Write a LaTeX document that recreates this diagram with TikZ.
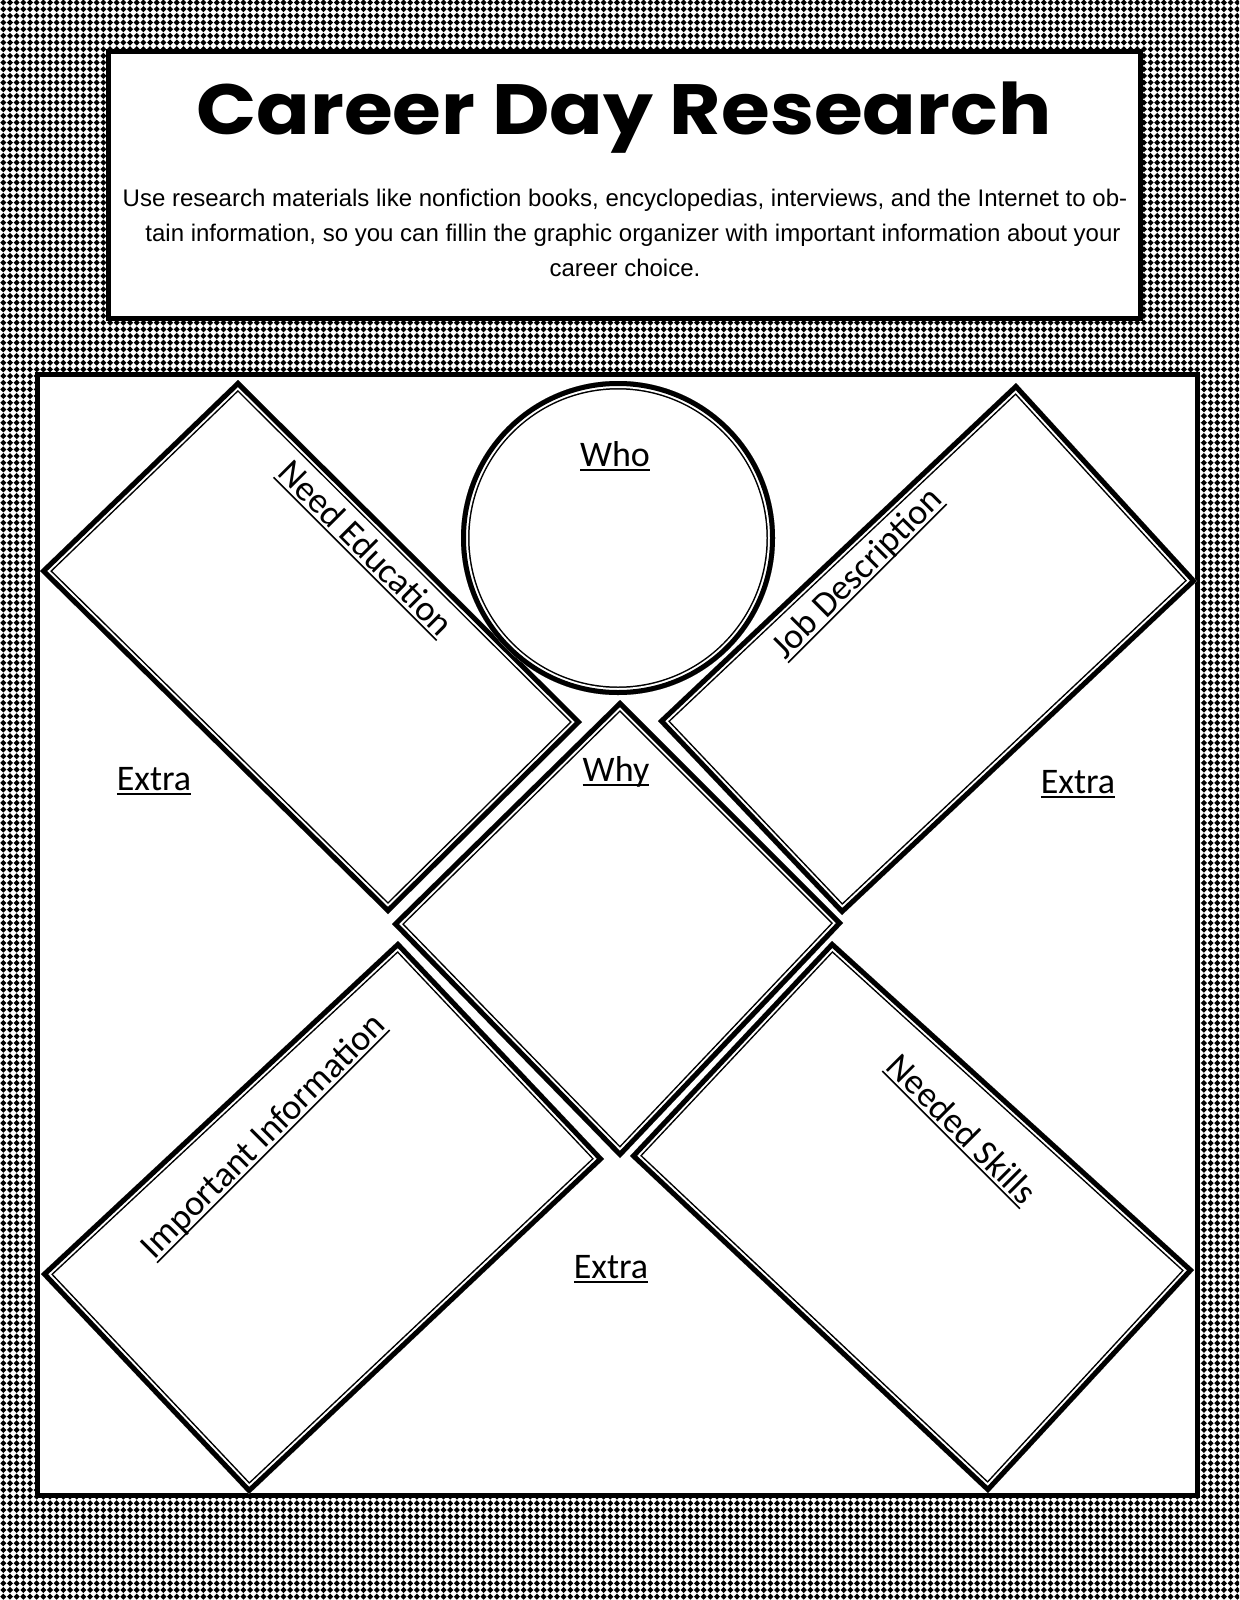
\documentclass[tikz,border=0pt]{standalone}
\usepackage{fontspec}
\setmainfont{Liberation Sans}
\newfontfamily\labelfont{Carlito}
\newfontfamily\titlefont{Poppins}
\usetikzlibrary{patterns}
\pgfdeclarepatternformonly{dmd}{\pgfpoint{-0.1pt}{-0.1pt}}{\pgfpoint{6.77pt}{6.77pt}}{\pgfpoint{6.67pt}{6.67pt}}{%
  \pgfpathmoveto{\pgfpoint{3.335pt}{0.3pt}}%
  \pgfpathlineto{\pgfpoint{6.37pt}{3.335pt}}%
  \pgfpathlineto{\pgfpoint{3.335pt}{6.37pt}}%
  \pgfpathlineto{\pgfpoint{0.3pt}{3.335pt}}%
  \pgfpathclose
  \pgfusepath{fill}}
\newcommand\dblshape[1]{%
  \begin{scope}
    \clip #1;
    \fill[white] #1;
    \draw[line width=17pt] #1;
    \draw[line width=14pt,white] #1;
    \draw[line width=10pt] #1;
  \end{scope}}
\newcommand\ulx[1]{\setbox0\hbox{#1}\rlap{\rule[-4.5pt]{\wd0}{1.6pt}}\box0}
\begin{document}
\begin{tikzpicture}[x=1pt,y=-1pt,line join=miter,
  lbl/.style={font=\labelfont\fontsize{36}{40}\selectfont,inner sep=0pt},
  bodyline/.style={font=\fontsize{24}{28}\selectfont,inner sep=0pt,anchor=base},
  framebox/.style={line width=5pt,draw=black,fill=white}]
\useasboundingbox (0,0) rectangle (1239,1600);
\fill[pattern=dmd] (0,0) rectangle (1239,1600);
% title box
\draw[framebox] (108.5,51.5) rectangle (1140.5,318.5);
\node[anchor=base,inner sep=0pt] (title) at (624,135)
  {\scalebox{1}[0.9]{\resizebox{855pt}{!}{\titlefont\bfseries Career Day Research}}};
\node[bodyline] (d1) at (625,206) {Use research materials like nonfiction books, encyclopedias, interviews, and the Internet to ob-};
\node[bodyline] (d2) at (633,241) {tain information, so you can fillin the graphic organizer with important information about your};
\node[bodyline] (d3) at (625,276) {career choice.};
% main box
\draw[framebox] (37.5,374.5) rectangle (1197.5,1495.5);
% rectangles
\dblshape{(238,380) -- (582,722) -- (388,914) -- (40,571) -- cycle}
\dblshape{(1016,383) -- (1197,581) -- (842,915) -- (658,721) -- cycle}
\dblshape{(398,941) -- (604,1159) -- (249,1494) -- (41,1274) -- cycle}
\dblshape{(832,941) -- (1194,1270) -- (988,1493) -- (630,1156) -- cycle}
% centre diamond
\dblshape{(620,700) -- (843,923) -- (620,1158) -- (392,924) -- cycle}
% circle
\dblshape{(618,538) circle[radius=157]}
% labels
\node[lbl,anchor=base] (who) at (615,466) {\ulx{Who}};
\node[lbl,anchor=base] (why) at (616,781) {\ulx{Why}};
\node[lbl,anchor=base] (extraL) at (154,790) {\ulx{Extra}};
\node[lbl,anchor=base] (extraR) at (1078,793) {\ulx{Extra}};
\node[lbl,anchor=base] (extraB) at (611,1278) {\ulx{Extra}};
\node[lbl,rotate=-45] (neededu) at (365,549) {\ulx{Need Education}};
\node[lbl,rotate=45] (jobdesc) at (858,574) {\ulx{Job Description}};
\node[lbl,rotate=45] (impinfo) at (264,1137) {\ulx{Important Information}};
\node[lbl,rotate=-45] (skills) at (961,1130) {\ulx{Needed Skills}};
\end{tikzpicture}
\end{document}
